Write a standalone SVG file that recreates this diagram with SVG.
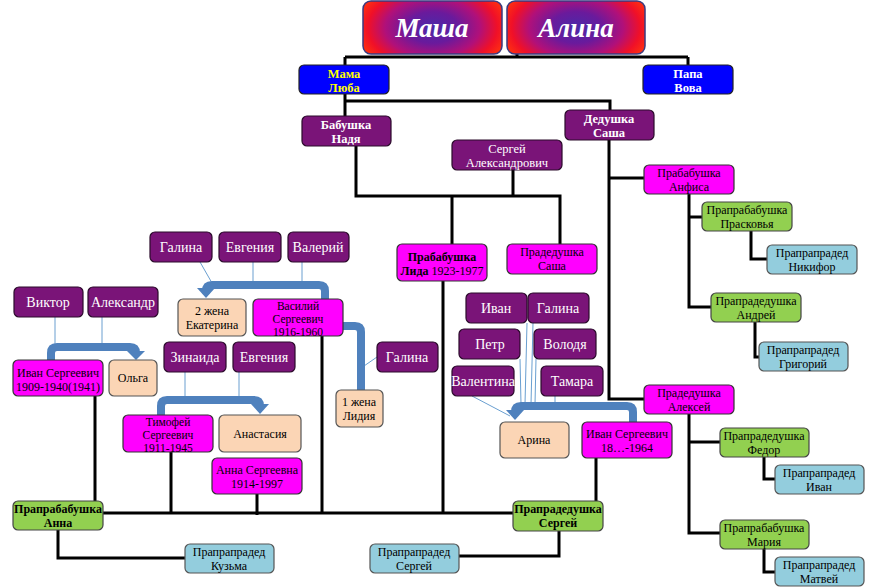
<svg xmlns="http://www.w3.org/2000/svg" width="878" height="587" viewBox="0 0 878 587">
<defs>
<radialGradient id="top" cx="50%" cy="50%" r="62%" fx="50%" fy="50%" gradientTransform="translate(0.5 0.5) scale(1 1.6) translate(-0.5 -0.5)">
<stop offset="0" stop-color="#4a2aa8"/>
<stop offset="0.3" stop-color="#6a1a9c"/>
<stop offset="0.55" stop-color="#b0107a"/>
<stop offset="0.75" stop-color="#f01028"/>
<stop offset="0.9" stop-color="#ff3010"/>
<stop offset="1" stop-color="#ff6a00"/>
</radialGradient>
</defs>
<style>
rect{rx:5px;ry:5px;stroke-width:1.2}
.p{fill:#7a1478;stroke:#2a0a2a}
.m{fill:#ff00ff;stroke:#333}
.k{fill:#fbd5b5;stroke:#555}
.g{fill:#92d050;stroke:#444}
.b{fill:#93cddd;stroke:#555}
.u{fill:#0000ff;stroke:#222}
.t{fill:url(#top);stroke:#3a3a80;stroke-width:1.5}
text{font-family:"Liberation Serif","DejaVu Serif",serif;font-size:12px;text-anchor:middle;fill:#000}
.s{font-size:11.5px}
.w{fill:#fff;font-size:14px}
.w2{fill:#fff;font-size:12.5px}
.wb{fill:#fff;font-size:12.5px;font-weight:bold}
.yb{fill:#ffff00;font-size:12.5px;font-weight:bold}
.bd{font-weight:bold}
.big{fill:#fff;font-size:27px;font-weight:bold;font-style:italic}
.ln{stroke:#000;stroke-width:3;fill:none}
.ar{stroke:#4f81bd;stroke-width:8;fill:none;stroke-linejoin:round}
.ah{fill:#4f81bd}
.th{stroke:#6a9fd0;stroke-width:1;fill:none}
</style>
<rect width="878" height="587" fill="#fff" style="rx:0"/>
<g id="connectors">
<path class="ln" d="M517 54V57M345 57H688M345 57V65M688 57V65"/>
<path class="ln" d="M345 94V101H610V110M345 101V116"/>
<path class="ln" d="M356 146V196H560V244M513 170V196M452 196V244"/>
<path class="ln" d="M609 140V399H644M609 178H644"/>
<path class="ln" d="M689 194V307H711M689 217H702"/>
<path class="ln" d="M751 231V259H767M755 322V357H759"/>
<path class="ln" d="M689 413V533H720M689 442H720"/>
<path class="ln" d="M764 457V479H775M764 549V572H775"/>
<path class="ln" d="M443 281V513M103 513H513M95 396V513M171 452V513M257 494V515M322 336V513"/>
<path class="ln" d="M58 530V558H185M596 458V501M559 531V556H459"/>
<path class="th" d="M55 317V346M102 317V346M200 262L212 283M253 262V283M302 262V283M377 357L364 366M185 372V398M239 372V398"/>
<path class="th" d="M472 396L510 416M520 359L521 404M527 323L525 404M533 323L531 404M536 359L535 404M555 396V404"/>
<path class="ar" d="M51 360V353Q51 347 57 347H130Q136 347 136 353V352"/>
<polygon class="ah" points="127,351 145,351 136,360"/>
<path class="ar" d="M325 299V291Q325 285 319 285H212Q206 285 206 291V289"/>
<polygon class="ah" points="197,288 215,288 206,298"/>
<path class="ar" d="M341 326H355Q361 326 361 332V390"/>
<path class="ar" d="M161 415V406Q161 400 167 400H254Q260 400 260 406V405"/>
<polygon class="ah" points="251,404 269,404 260,414"/>
<path class="ar" d="M633 422V412Q633 406 627 406H521Q515 406 515 412V411"/>
<polygon class="ah" points="506,410 524,410 515,420"/>
</g>
<g id="masha"><rect class="t" x="363" y="1" width="139" height="53" style="rx:8px;ry:8px"/><text class="big" x="432" y="37">Маша</text></g>
<g id="alina"><rect class="t" x="507" y="1" width="138" height="53" style="rx:8px;ry:8px"/><text class="big" x="576" y="37">Алина</text></g>
<g id="mama"><rect class="u" x="299" y="65" width="90" height="29"/><text class="yb" x="344" y="78">Мама</text><text class="yb" x="344" y="92">Люба</text></g>
<g id="papa"><rect class="u" x="643" y="65" width="90" height="29"/><text class="wb" x="688" y="78">Папа</text><text class="wb" x="688" y="92">Вова</text></g>
<g id="babushka"><rect class="p" x="302" y="116" width="89" height="30"/><text class="wb" x="346" y="129">Бабушка</text><text class="wb" x="346" y="143">Надя</text></g>
<g id="dedushka"><rect class="p" x="565" y="110" width="89" height="30"/><text class="wb" x="609" y="123">Дедушка</text><text class="wb" x="609" y="137">Саша</text></g>
<g id="sergey-a"><rect class="p" x="452" y="140" width="110" height="30"/><text class="w2" x="507" y="153">Сергей</text><text class="w2" x="507" y="167">Александрович</text></g>
<g id="lida"><rect class="m" x="397" y="244" width="90" height="37"/><text x="442" y="261"><tspan class="bd">Прабабушка</tspan></text><text x="442" y="275"><tspan class="bd">Лида</tspan> 1923-1977</text></g>
<g id="pradedushka-sasha"><rect class="m" x="507" y="244" width="90" height="30"/><text x="552" y="256">Прадедушка</text><text x="552" y="270">Саша</text></g>
<g id="anfisa"><rect class="m" x="644" y="165" width="90" height="29"/><text x="689" y="177">Прабабушка</text><text x="689" y="191">Анфиса</text></g>
<g id="praskovya"><rect class="g" x="702" y="202" width="90" height="29"/><text x="747" y="214">Прапрабабушка</text><text x="747" y="228">Прасковья</text></g>
<g id="nikifor"><rect class="b" x="767" y="245" width="90" height="29"/><text x="812" y="257">Прапрапрадед</text><text x="812" y="271">Никифор</text></g>
<g id="andrey"><rect class="g" x="711" y="293" width="90" height="29"/><text x="756" y="305">Прапрадедушка</text><text x="756" y="319">Андрей</text></g>
<g id="grigoriy"><rect class="b" x="759" y="342" width="89" height="29"/><text x="803" y="354">Прапрапрадед</text><text x="803" y="368">Григорий</text></g>
<g id="aleksey"><rect class="m" x="644" y="385" width="90" height="29"/><text x="689" y="397">Прадедушка</text><text x="689" y="411">Алексей</text></g>
<g id="fedor"><rect class="g" x="720" y="428" width="89" height="29"/><text x="764" y="440">Прапрадедушка</text><text x="764" y="454">Федор</text></g>
<g id="ivan-b"><rect class="b" x="775" y="465" width="89" height="29"/><text x="819" y="477">Прапрапрадед</text><text x="819" y="491">Иван</text></g>
<g id="mariya"><rect class="g" x="720" y="520" width="89" height="29"/><text x="764" y="532">Прапрабабушка</text><text x="764" y="546">Мария</text></g>
<g id="matvey"><rect class="b" x="775" y="557" width="89" height="29"/><text x="819" y="569">Прапрапрадед</text><text x="819" y="583">Матвей</text></g>
<g id="viktor"><rect class="p" x="14" y="287" width="69" height="30"/><text class="w" x="48" y="307">Виктор</text></g>
<g id="aleksandr"><rect class="p" x="88" y="287" width="70" height="30"/><text class="w" x="123" y="307">Александр</text></g>
<g id="ivan-1909"><rect class="m" x="13" y="360" width="90" height="36"/><text x="58" y="377">Иван Сергеевич</text><text x="58" y="391">1909-1940(1941)</text></g>
<g id="olga"><rect class="k" x="109" y="360" width="48" height="36"/><text x="133" y="382">Ольга</text></g>
<g id="galina1"><rect class="p" x="150" y="232" width="62" height="30"/><text class="w" x="181" y="252">Галина</text></g>
<g id="evgeniya1"><rect class="p" x="219" y="232" width="62" height="30"/><text class="w" x="250" y="252">Евгения</text></g>
<g id="valeriy"><rect class="p" x="288" y="232" width="61" height="30"/><text class="w" x="318" y="252">Валерий</text></g>
<g id="ekaterina"><rect class="k" x="178" y="299" width="68" height="37"/><text x="212" y="315">2 жена</text><text x="212" y="329">Екатерина</text></g>
<g id="vasiliy"><rect class="m" x="253" y="299" width="90" height="37"/><text class="s" x="298" y="310">Василий</text><text class="s" x="298" y="323">Сергеевич</text><text class="s" x="298" y="336">1916-1960</text></g>
<g id="galina2"><rect class="p" x="377" y="342" width="61" height="30"/><text class="w" x="407" y="362">Галина</text></g>
<g id="lidiya"><rect class="k" x="336" y="390" width="47" height="37"/><text x="359" y="406">1 жена</text><text x="359" y="420">Лидия</text></g>
<g id="zinaida"><rect class="p" x="164" y="342" width="62" height="30"/><text class="w" x="195" y="362">Зинаида</text></g>
<g id="evgeniya2"><rect class="p" x="233" y="342" width="62" height="30"/><text class="w" x="264" y="362">Евгения</text></g>
<g id="timofey"><rect class="m" x="123" y="415" width="90" height="37"/><text class="s" x="168" y="426">Тимофей</text><text class="s" x="168" y="439">Сергеевич</text><text class="s" x="168" y="452">1911-1945</text></g>
<g id="anastasiya"><rect class="k" x="219" y="415" width="82" height="37"/><text x="260" y="438">Анастасия</text></g>
<g id="anna-s"><rect class="m" x="212" y="458" width="90" height="36"/><text x="257" y="474">Анна Сергеевна</text><text x="257" y="488">1914-1997</text></g>
<g id="anna"><rect class="g" x="13" y="501" width="90" height="29"/><text class="bd" x="58" y="513">Прапрабабушка</text><text class="bd" x="58" y="527">Анна</text></g>
<g id="kuzma"><rect class="b" x="185" y="544" width="89" height="29"/><text x="229" y="556">Прапрапрадед</text><text x="229" y="570">Кузьма</text></g>
<g id="sergey-b"><rect class="b" x="370" y="544" width="89" height="29"/><text x="414" y="556">Прапрапрадед</text><text x="414" y="570">Сергей</text></g>
<g id="sergey-g"><rect class="g" x="513" y="501" width="90" height="30"/><text class="bd" x="558" y="513">Прапрадедушка</text><text class="bd" x="558" y="527">Сергей</text></g>
<g id="ivan-p"><rect class="p" x="466" y="293" width="61" height="30"/><text class="w" x="496" y="313">Иван</text></g>
<g id="galina3"><rect class="p" x="528" y="293" width="61" height="30"/><text class="w" x="558" y="313">Галина</text></g>
<g id="petr"><rect class="p" x="459" y="329" width="61" height="30"/><text class="w" x="490" y="349">Петр</text></g>
<g id="volodya"><rect class="p" x="534" y="329" width="62" height="30"/><text class="w" x="565" y="349">Володя</text></g>
<g id="valentina"><rect class="p" x="452" y="366" width="62" height="30"/><text class="w" x="483" y="386">Валентина</text></g>
<g id="tamara"><rect class="p" x="541" y="366" width="62" height="30"/><text class="w" x="572" y="386">Тамара</text></g>
<g id="arina"><rect class="k" x="500" y="422" width="69" height="36"/><text x="534" y="444">Арина</text></g>
<g id="ivan-18"><rect class="m" x="582" y="422" width="90" height="36"/><text x="627" y="438">Иван Сергеевич</text><text x="627" y="452">18…-1964</text></g>
</svg>
